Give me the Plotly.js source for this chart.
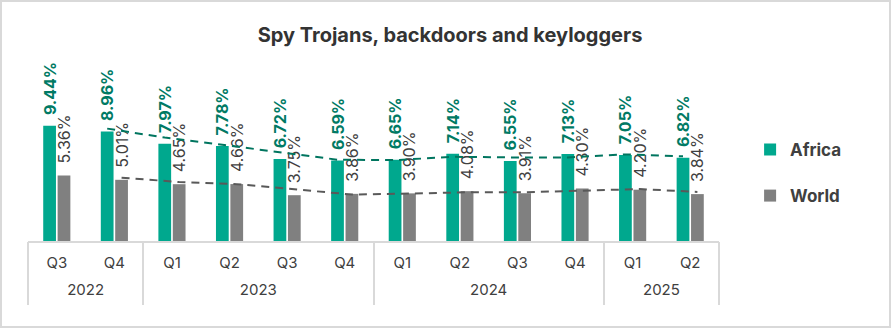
<!DOCTYPE html>
<html>
<head>
<meta charset="utf-8">
<script src="https://cdn.plot.ly/plotly-3.0.1.min.js"></script>
<style>
  html, body { margin: 0; padding: 0; background: #fff; }
  #wrap { position: relative; width: 891px; height: 329px; }
  #chart { position: absolute; left: 0; top: 0; width: 891px; height: 329px; }
  #frame { position: absolute; left: 0; top: 0; width: 891px; height: 328px; box-sizing: border-box; border: 2px solid #d9d9d9; pointer-events: none; }
</style>
</head>
<body>
<div id="wrap"><div id="chart"></div><div id="frame"></div></div>
<script>
const years    = ['2022','2022','2023','2023','2023','2023','2024','2024','2024','2024','2025','2025'];
const quarters = ['Q3','Q4','Q1','Q2','Q3','Q4','Q1','Q2','Q3','Q4','Q1','Q2'];
const africa   = [9.44, 8.96, 7.97, 7.78, 6.72, 6.59, 6.65, 7.14, 6.55, 7.13, 7.05, 6.82];
const world    = [5.36, 5.01, 4.65, 4.66, 3.75, 3.86, 3.90, 4.08, 3.91, 4.30, 4.20, 3.84];

// unique category keys (year + quarter); displayed text is the quarter
const keys = years.map((y, i) => y + ' ' + quarters[i]);

// Two-period moving average trendlines (as in the original chart)
function movingAvg(arr) {
  const out = [];
  for (let i = 1; i < arr.length; i++) out.push((arr[i - 1] + arr[i]) / 2);
  return out;
}

// year groups: centre index for each year label, and group boundaries for dividers
const yearNames = [], yearCenters = [], bounds = [-0.5];
years.forEach((y, i) => {
  if (i === 0 || years[i - 1] !== y) {
    let j = i; while (j + 1 < years.length && years[j + 1] === y) j++;
    yearNames.push(y); yearCenters.push((i + j) / 2); bounds.push(j + 0.5);
  }
});

const FONT = 'Inter, "Open Sans", sans-serif';
const TEAL = '#00A88E';
const GREY = '#808080';

const traces = [
  {
    type: 'bar', name: 'Africa', x: keys, y: africa,
    marker: { color: TEAL }, offsetgroup: 'a', legendgroup: 'a',
    texttemplate: '\u00a0\u00a0%{y:.2f}%', textposition: 'outside', textangle: -90,
    constraintext: 'none', cliponaxis: false,
    textfont: { family: FONT, size: 16, weight: 700, color: '#007A64' },
    hoverinfo: 'skip'
  },
  {
    type: 'bar', name: 'World', x: keys, y: world,
    marker: { color: GREY }, offsetgroup: 'b', legendgroup: 'b',
    texttemplate: '\u00a0\u00a0%{y:.2f}%', textposition: 'outside', textangle: -90,
    constraintext: 'none', cliponaxis: false,
    textfont: { family: FONT, size: 16, weight: 400, color: '#404040' },
    hoverinfo: 'skip'
  },
  {
    type: 'scatter', mode: 'lines', x: keys.slice(1), y: movingAvg(africa),
    offsetgroup: 'a', showlegend: false, cliponaxis: false,
    line: { color: '#00755F', width: 2, dash: '8px,6px' }, hoverinfo: 'skip'
  },
  {
    type: 'scatter', mode: 'lines', x: keys.slice(1), y: movingAvg(world),
    offsetgroup: 'b', showlegend: false, cliponaxis: false,
    line: { color: '#595959', width: 2, dash: '8px,6px' }, hoverinfo: 'skip'
  },
  {
    // carrier for the year-label axis (draws nothing)
    type: 'scatter', mode: 'markers', xaxis: 'x2', yaxis: 'y',
    x: yearCenters, y: yearCenters.map(() => null),
    showlegend: false, hoverinfo: 'skip'
  }
];

const layout = {
  width: 891, height: 329,
  margin: { l: 28, r: 172, t: 70, b: 88 },
  paper_bgcolor: 'rgba(0,0,0,0)', plot_bgcolor: 'rgba(0,0,0,0)',
  font: { family: FONT, color: '#404040' },
  title: {
    text: 'Spy Trojans, backdoors and keyloggers',
    font: { family: FONT, size: 20, weight: 700, color: '#333333' },
    x: 450 / 891, xanchor: 'center', xref: 'container',
    y: 1 - 35 / 329, yref: 'container', yanchor: 'middle'
  },
  barmode: 'group', bargap: 0.5, bargroupgap: 0.115,
  scattermode: 'group', scattergap: 0.5,
  showlegend: true,
  legend: {
    x: 1.045, xanchor: 'left', y: 0.398, yanchor: 'middle',
    font: { family: FONT, size: 17, weight: 700, color: '#404040' },
    tracegroupgap: 21, bgcolor: 'rgba(0,0,0,0)'
  },
  xaxis: {
    type: 'category', range: [-0.5, keys.length - 0.5],
    tickmode: 'array', tickvals: keys, ticktext: quarters,
    showline: true, linecolor: '#D9D9D9', linewidth: 2,
    ticks: '', showgrid: false, zeroline: false,
    ticklabelstandoff: 7,
    tickfont: { family: FONT, size: 15, color: '#404040' }
  },
  xaxis2: {
    overlaying: 'x', anchor: 'y', side: 'bottom',
    type: 'linear', range: [-0.5, keys.length - 0.5],
    tickmode: 'array', tickvals: yearCenters, ticktext: yearNames,
    ticks: '', showline: false, showgrid: false, zeroline: false,
    ticklabelstandoff: 38,
    tickfont: { family: FONT, size: 15, color: '#404040' },
    minor: { tickmode: 'array', tickvals: bounds, ticks: 'outside', ticklen: 63,
             tickwidth: 2, tickcolor: '#D9D9D9', showgrid: false }
  },
  yaxis: {
    range: [0, 14], visible: false, showgrid: false, zeroline: false, fixedrange: true
  }
};

Plotly.newPlot('chart', traces, layout, { staticPlot: true, displayModeBar: false });
</script>
</body>
</html>
